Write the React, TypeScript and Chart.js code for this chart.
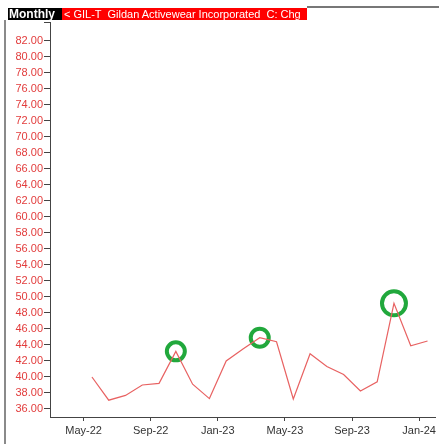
import React, { useEffect, useRef } from "react";
import { Chart, registerables } from "chart.js";

Chart.register(...registerables);

// Monthly points, May-22 .. Jan-24
const months = [
  "May-22", "Jun-22", "Jul-22", "Aug-22", "Sep-22", "Oct-22", "Nov-22", "Dec-22",
  "Jan-23", "Feb-23", "Mar-23", "Apr-23", "May-23", "Jun-23", "Jul-23", "Aug-23",
  "Sep-23", "Oct-23", "Nov-23", "Dec-23", "Jan-24",
];
const values = [
  40.0, 37.1, 37.7, 39.0, 39.2, 43.2, 39.1, 37.3,
  42.0, 43.5, 44.9, 44.4, 37.25, 42.9, 41.3, 40.3,
  38.25, 39.4, 49.2, 43.9, 44.5,
];
const highlightMonths = ["Oct-22", "Mar-23", "Nov-23"];
const highlightSizes = [9, 9, 12];
const xTickLabels = ["May-22", "Sep-22", "Jan-23", "May-23", "Sep-23", "Jan-24"];
const yTicks = [36, 38, 40, 42, 44, 46, 48, 50, 52, 54, 56, 58, 60, 62, 64, 66, 68, 70, 72, 74, 76, 78, 80, 82];
const yMin = 35;
const yMax = 84.35;
const titleLeft = "Monthly";
const titleRight = "< GIL-T  Gildan Activewear Incorporated  C: Chg";

export default function App() {
  const ref = useRef<HTMLCanvasElement>(null);

  useEffect(() => {
    if (!ref.current) return;
    const lineData = values.map((v, i) => ({ x: i + 0.5, y: v }));
    const hlData = highlightMonths.map((m) => {
      const i = months.indexOf(m);
      return { x: i + 0.5, y: values[i] };
    });
    const chart = new Chart(ref.current, {
      type: "scatter",
      data: {
        datasets: [
          {
            data: lineData,
            showLine: true,
            borderColor: "#e86262",
            borderWidth: 1.2,
            pointRadius: 0,
            tension: 0,
          },
          {
            data: hlData,
            showLine: false,
            pointRadius: highlightSizes,
            pointBorderWidth: 4,
            pointBorderColor: "#21a83c",
            pointBackgroundColor: "rgba(0,0,0,0)",
          },
        ],
      },
      options: {
        animation: false,
        responsive: false,
        layout: { autoPadding: false, padding: { top: 22, right: 1, left: 0, bottom: 0 } },
        plugins: { legend: { display: false }, tooltip: { enabled: false } },
        scales: {
          x: {
            type: "linear",
            min: -2,
            max: 21,
            afterFit: (s: any) => {
              s.height = 27;
            },
            afterBuildTicks: (s: any) => {
              s.ticks = xTickLabels.map((_, i) => ({ value: i * 4 }));
            },
            grid: {
              drawOnChartArea: false,
              drawTicks: true,
              tickLength: 4,
              color: "#444",
            },
            border: { display: true, color: "#444", width: 1 },
            ticks: {
              color: "#333",
              padding: 3,
              maxRotation: 0,
              autoSkip: false,
              font: { family: "Liberation Sans", size: 11 },
              callback: (v: any) => xTickLabels[Math.round(v / 4)] ?? "",
            },
          },
          y: {
            type: "linear",
            min: yMin,
            max: yMax,
            afterFit: (s: any) => {
              s.width = 50;
            },
            afterBuildTicks: (s: any) => {
              s.ticks = [...yTicks.map((v) => ({ value: v })), { value: yMax }];
            },
            grid: {
              drawOnChartArea: false,
              drawTicks: true,
              tickLength: 6,
              color: "#444",
            },
            border: { display: true, color: "#444", width: 1 },
            ticks: {
              color: "#e23c3c",
              padding: 1,
              autoSkip: false,
              font: { family: "Liberation Sans", size: 11 },
              callback: (v: any) => (v <= 82.001 ? Number(v).toFixed(2) : ""),
            },
          },
        },
      },
    });
    return () => chart.destroy();
  }, []);

  return (
    <div
      style={{
        position: "fixed",
        left: 0,
        top: 0,
        width: 439,
        height: 444,
        background: "#fff",
        overflow: "hidden",
      }}
    >
      <canvas ref={ref} width={439} height={444} style={{ position: "absolute", left: 0, top: 0 }} />
      <div style={{ position: "absolute", left: 4, top: 20, width: 2, height: 424, background: "#8a8a8a" }} />
      <div style={{ position: "absolute", left: 307, top: 6, width: 132, height: 2, background: "#777" }} />
      <div
        style={{
          position: "absolute",
          left: 8,
          top: 8,
          width: 54,
          height: 12,
          background: "#000",
          color: "#fff",
          fontFamily: "Liberation Sans",
          fontWeight: "bold",
          fontSize: 12,
          lineHeight: "12px",
          paddingLeft: 1,
          boxSizing: "border-box",
          whiteSpace: "nowrap",
        }}
      >
        {titleLeft}
      </div>
      <div
        style={{
          position: "absolute",
          left: 62,
          top: 8,
          width: 245,
          height: 12,
          background: "#ff0000",
          color: "#fff",
          fontFamily: "Liberation Sans",
          fontSize: 11,
          lineHeight: "12px",
          paddingLeft: 2,
          boxSizing: "border-box",
          whiteSpace: "pre",
          overflow: "hidden",
        }}
      >
        {titleRight}
      </div>
    </div>
  );
}
